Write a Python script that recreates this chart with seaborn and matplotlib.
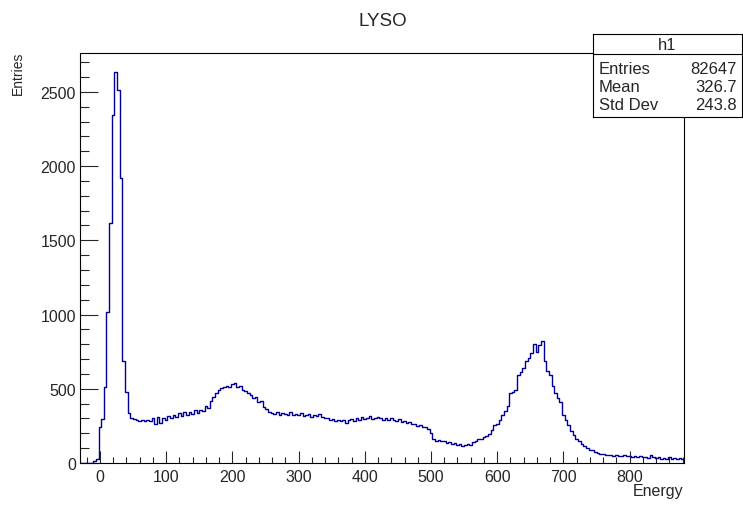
import numpy as np
import pandas as pd
import matplotlib
matplotlib.use("Agg")
import matplotlib.pyplot as plt
import seaborn as sns

# Histogramme LYSO : 228 bins de 4 unités, de -30 à 882
bin_min = -30
bin_max = 882
bin_width = 4
counts = [
    0, 0, 0, 0, 0, 15, 30, 240, 295, 510,
    1015, 1620, 2345, 2635, 2515, 1920, 690, 480, 340, 305,
    298, 290, 285, 292, 280, 288, 283, 300, 262, 310,
    268, 305, 290, 318, 300, 325, 310, 335, 318, 342,
    325, 345, 330, 355, 340, 360, 350, 385, 370, 420,
    445, 470, 495, 505, 510, 520, 515, 530, 540, 510,
    520, 495, 485, 470, 455, 440, 445, 410, 415, 380,
    365, 345, 340, 330, 345, 325, 340, 330, 320, 342,
    325, 330, 320, 335, 315, 325, 330, 312, 325, 318,
    330, 310, 300, 305, 290, 298, 285, 292, 280, 288,
    272, 290, 295, 285, 305, 290, 310, 295, 300, 315,
    295, 305, 310, 300, 290, 305, 288, 300, 290, 282,
    295, 275, 283, 270, 275, 262, 265, 250, 255, 240,
    245, 230, 200, 160, 150, 155, 145, 150, 135, 140,
    128, 135, 120, 130, 115, 118, 125, 118, 140, 150,
    165, 160, 175, 185, 195, 225, 255, 260, 290, 320,
    350, 385, 470, 480, 495, 590, 615, 640, 685, 710,
    740, 805, 745, 795, 825, 690, 620, 590, 520, 470,
    440, 410, 325, 290, 255, 215, 188, 165, 148, 125,
    115, 100, 90, 85, 75, 68, 62, 58, 55, 52,
    54, 48, 52, 50, 46, 52, 45, 48, 42, 46,
    40, 45, 38, 42, 36, 55, 40, 35, 38, 30,
    34, 28, 40, 30, 32, 28, 35, 30,
]
stats_labels = ["Entries", "Mean", "Std Dev"]
stats_values = ["82647", "326.7", "243.8"]

centers = bin_min + bin_width * (np.arange(len(counts)) + 0.5)
df = pd.DataFrame({"Energy": centers, "Entries": counts})

sns.set_style("white")
plt.rcParams["font.family"] = ["Liberation Sans", "DejaVu Sans"]

W, H = 743, 506
fig = plt.figure(figsize=(W / 100, H / 100), dpi=100)
# cadre du graphique (pixels : x 80-684, y 54-464)
ax = fig.add_axes([80 / W, (H - 464) / H, 604 / W, 410 / H])

sns.histplot(data=df, x="Energy", weights="Entries", binwidth=bin_width,
             binrange=(bin_min, bin_max), element="step", fill=False,
             color="#000099", linewidth=1.0, ax=ax)

ax.set_xlim(bin_min, bin_max)
ax.set_ylim(0, 2762)
ax.set_xlabel("")
ax.set_ylabel("")
for s in ax.spines.values():
    s.set_linewidth(0.8)
    s.set_color("black")

ax.set_xticks(np.arange(0, 801, 100))
ax.set_xticks(np.arange(-20, 882, 20), minor=True)
ax.set_yticks(np.arange(0, 2501, 500))
ax.set_yticks(np.arange(0, 2762, 100), minor=True)
ax.tick_params(axis="x", which="major", direction="in", length=9, width=0.8,
               labelsize=11.5, pad=4, top=False, bottom=True)
ax.tick_params(axis="x", which="minor", direction="in", length=4.5, width=0.8,
               top=False, bottom=True)
ax.tick_params(axis="y", which="major", direction="in", length=13, width=0.8,
               labelsize=11.5, pad=3, right=False, left=True)
ax.tick_params(axis="y", which="minor", direction="in", length=6.5, width=0.8,
               right=False, left=True)

# titres
fig.text(383 / W, 1 - 22 / H, "LYSO", ha="center", va="center", fontsize=13.5)
fig.text(18 / W, 1 - 52 / H, "Entries", ha="center", va="top",
         rotation=90, fontsize=10)
fig.text(683 / W, 1 - 492 / H, "Energy", ha="right", va="center", fontsize=11.5)

# boîte de statistiques
bx = fig.add_axes([593 / W, (H - 118) / H, 149 / W, 83 / H])
bx.set_xlim(0, 149)
bx.set_ylim(83, 0)
bx.set_xticks([])
bx.set_yticks([])
bx.set_facecolor("white")
for s in bx.spines.values():
    s.set_linewidth(0.8)
    s.set_color("black")
bx.axhline(20, color="black", linewidth=0.8)
bx.text(74.5, 10, "h1", ha="center", va="center", fontsize=12)
for i, (lab, val) in enumerate(zip(stats_labels, stats_values)):
    y = 35 + 18 * i
    bx.text(6, y, lab, ha="left", va="center", fontsize=12)
    bx.text(144, y, val, ha="right", va="center", fontsize=12)

fig.savefig("out.png", dpi=100)
